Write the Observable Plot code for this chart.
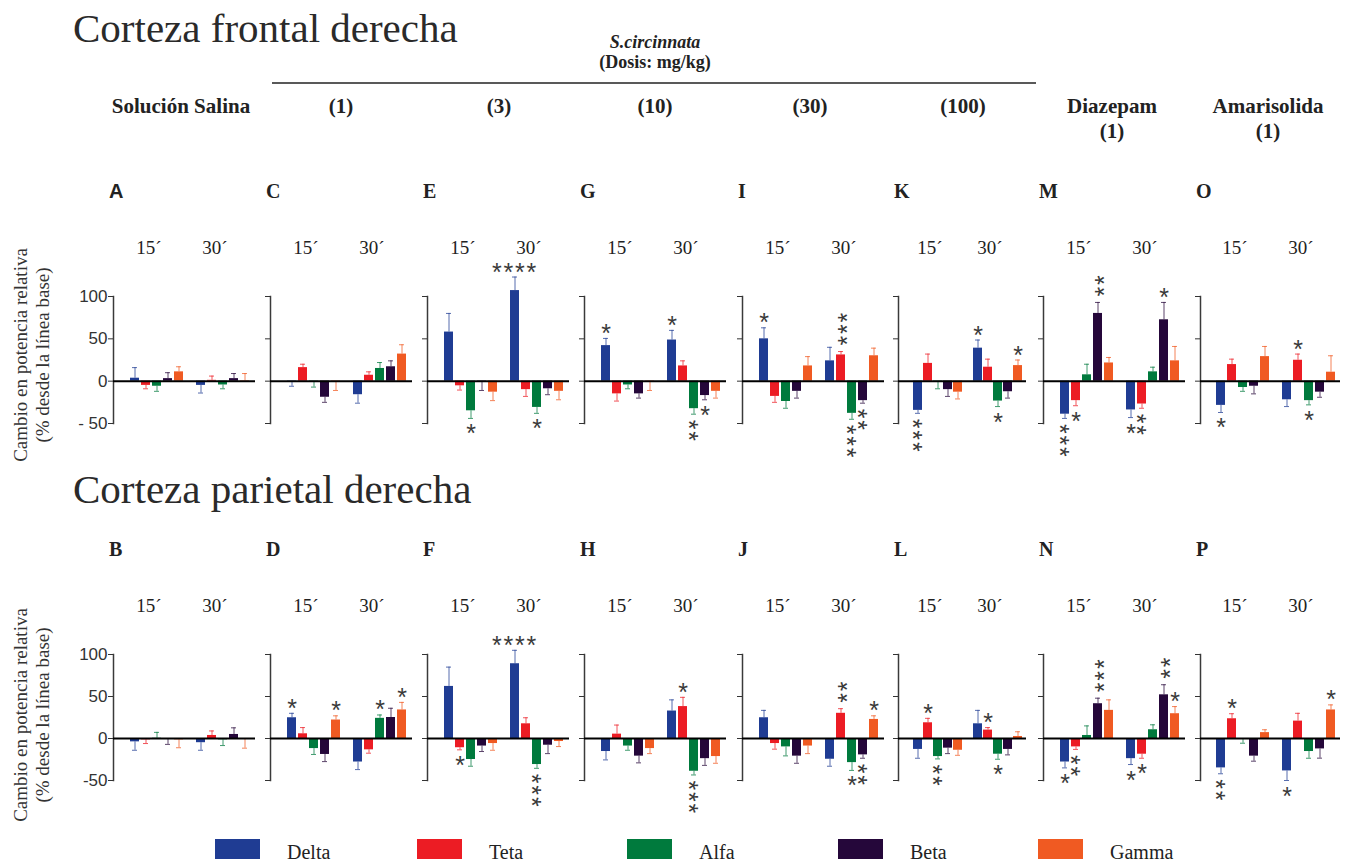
<!DOCTYPE html>
<html><head><meta charset="utf-8">
<script src="https://cdn.jsdelivr.net/npm/d3@7"></script>
<script src="https://cdn.jsdelivr.net/npm/@observablehq/plot@0.6"></script>
<style>
html,body{margin:0;padding:0;background:#fff;}
#root{position:relative;width:1348px;height:866px;overflow:hidden;background:#fff;}
</style></head><body><div id="root"></div>
<script>
// ---------- data ----------
const bands = ["Delta","Teta","Alfa","Beta","Gamma"];
const bandColors = ["#1f3c93","#ec1c24","#007a3d","#25073a","#f05a22"];
const times = ["15´","30´"];
const regionTitles = ["Corteza frontal derecha","Corteza parietal derecha"];
const groupLabels = ["Solución Salina","(1)","(3)","(10)","(30)","(100)","Diazepam\n(1)","Amarisolida\n(1)"];
const topPanels = ["A","C","E","G","I","K","M","O"];
const bottomPanels = ["B","D","F","H","J","L","N","P"];
const yTicks = [-50, 0, 50, 100];

// each array: 5 bands at 15´ then 5 bands at 30´ (Delta, Teta, Alfa, Beta, Gamma)
const valA = [3.5,-5,-6,3,11, -5,1,-4.5,3,0.5];
const semA = [12.5,4,6,7,6, 9,5,4.5,6,8.5];
const sigA = ["","","","","", "","","","",""];
const valC = [-1,16,-1,-19,-1, -16,7,15,17,32];
const semC = [5,4,6,6,10, 10,4,7,7,11];
const sigC = ["","","","","", "","","","",""];
const valE = [58,-5.5,-35,-1,-13, 107,-10,-31,-9,-12];
const semE = [22,5,9,10,10, 16,8,7,7,10];
const sigE = ["","","*","","", "****","","*","",""];
const valG = [42,-15,-4.5,-15,-1, 48.6,18,-32.5,-17,-12];
const semG = [8.5,8.5,4.5,5,10, 11.4,6,6.5,5,8];
const sigG = ["*","","","","", "*","","**","*",""];
const valI = [50,-18,-24,-12,18, 24,31,-38,-23,30];
const semI = [13,7,8,8,11, 16,4,7,3,9];
const sigI = ["*","","","","", "","***","***","**",""];
const valK = [-34.5,21,-1,-10,-13, 39,16.5,-23.5,-12.5,18.4];
const semK = [3.5,11,8,8,8, 9.6,9.5,6.5,7.5,6.6];
const sigK = ["***","","","","", "*","","*","","*"];
const valM = [-39,-23,7.5,80,21.5, -34,-27,11,72.5,24];
const semM = [5,6,12.5,13,6.5, 9,5,5.5,20.5,17];
const sigM = ["***","*","","**","", "*","**","","*",""];
const valO = [-28.6,19.6,-7.5,-6,29, -22,24.7,-23,-13,10.6];
const semO = [8.4,6.4,4.5,9,12, 8,7.3,5,6,19.4];
const sigO = ["*","","","","", "","*","*","",""];

const valB = [-4,-1.6,0.3,-0.5,-1.6, -5,3.6,-1.6,4.8,-0.5];
const semB = [10,4.4,7,6.5,9.4, 9,5.4,6.8,7.9,11];
const sigB = ["","","","","", "","","","",""];
const valD = [24.7,5.6,-12,-19,22, -28,-13.5,24,25,34];
const semD = [5.3,7.4,7,8.5,5, 9,4,4,11,9];
const sigD = ["*","","","","*", "","","*","","*"];
const valF = [62,-11,-25,-9,-6, 89,17.5,-31,-8,-3.6];
const semF = [23,2.5,8,6.5,8, 16,7.2,4.5,10,6];
const sigF = ["","*","","","", "****","","***","",""];
const valH = [-15.5,5.2,-9,-21,-12, 32.7,38,-39,-24,-21.5];
const semH = [10,10.8,5,8,6, 13.3,11,4.4,8,8];
const sigH = ["","","","","", "","*","***","",""];
const valJ = [24.7,-6,-10,-21,-9, -24.7,30,-28.7,-19.5,22.7];
const semJ = [8.8,6.7,10.7,8.5,9, 8.3,5.5,9.3,4,4.3];
const sigJ = ["","","","","", "","**","*","**","*"];
const valL = [-13,18.7,-21.5,-11.5,-14, 17.5,10,-18.7,-13,2.4];
const semL = [10.5,5.3,2.8,6.5,6, 16,3,6,6.5,5.6];
const sigL = ["","*","**","","", "","*","*","",""];
const valN = [-28,-10,3.6,41.4,33.5, -24,-18.7,10.4,52,29.5];
const semN = [7,3,11.4,6.6,12.5, 7,4.8,5.9,12,8.5];
const sigN = ["*","**","","***","", "*","*","","**","*"];
const valP = [-35,23.5,-1,-21,7, -38.6,20.7,-15.5,-12.4,34];
const semP = [7,6,4.6,6,3.4, 11.4,9.3,8,11,6];
const sigP = ["**","*","","","", "*","","","","*"];

// ---------- layout ----------
const panelRows = [
  [[valA,semA,sigA],[valC,semC,sigC],[valE,semE,sigE],[valG,semG,sigG],[valI,semI,sigI],[valK,semK,sigK],[valM,semM,sigM],[valO,semO,sigO]],
  [[valB,semB,sigB],[valD,semD,sigD],[valF,semF,sigF],[valH,semH,sigH],[valJ,semJ,sigJ],[valL,semL,sigL],[valN,semN,sigN],[valP,semP,sigP]]
];
const axisX = [113, 270, 427, 584, 742, 898, 1043, 1200];
const panelW = [142, 142, 142, 142, 142, 128, 142, 140];
const rowGeom = [
  {y100: 296, yM50: 423, timeBase: 253, letterBase: 198, titleBase: 42, yLabelC: 355},
  {y100: 654, yM50: 780, timeBase: 611, letterBase: 556, titleBase: 503, yLabelC: 715}
];
const groupCenters = [181, 341, 499, 655, 810, 963, 1112, 1268];

const root = document.getElementById("root");
const serif = "Liberation Serif, Times New Roman, serif";
const sans = "Liberation Sans, Arial, sans-serif";

const STAR_SIZE = 25;

function drawPanel(row, col) {
  const [val, sem, sig] = panelRows[row][col];
  const R = rowGeom[row];
  const rows = val.map((v, i) => {
    const t = i < 5 ? 0 : 1, b = bands[i % 5];
    const dir = v < 0 ? -1 : 1;
    return {key: `${times[t]} ${b}`, band: b, value: v, end: v + dir * sem[i], sig: sig[i], dir};
  });
  const keys = ["pad", ...bands.map(b => `${times[0]} ${b}`), "gap", ...bands.map(b => `${times[1]} ${b}`)];
  const starStyle = {fontFamily: sans, fontSize: STAR_SIZE, fill: "#3a3a3a"};
  const single = d => d.sig.length === 1 || d.sig.length >= 4;
  const stack = d => d.sig.length === 2 || d.sig.length === 3;
  const starMarks = [
    // single asterisk or horizontal row of asterisks
    Plot.text(rows.filter(d => single(d) && d.dir > 0), {x: "key", y: "end", text: "sig", lineAnchor: "bottom", dy: 3.5, ...starStyle}),
    Plot.text(rows.filter(d => single(d) && d.dir < 0), {x: "key", y: "end", text: "sig", lineAnchor: "bottom", dy: 24, ...starStyle}),
    // vertical stacks above positive bars
    Plot.text(rows.filter(d => stack(d) && d.dir > 0), {x: "key", y: "end", text: "sig",
      rotate: -90, textAnchor: "start", lineAnchor: "middle", dx: 6.5, dy: -6, ...starStyle}),
    // vertical stacks below negative bars
    Plot.text(rows.filter(d => stack(d) && d.dir < 0), {x: "key", y: "end", text: "sig",
      rotate: 90, textAnchor: "start", lineAnchor: "middle", dx: -6.5, dy: 5.5, ...starStyle})
  ];
  const w = panelW[col];
  const mL = 45, mT = 60, mB = 50;
  const mR = Math.min(14, 1348 - (axisX[col] + w) - 1);
  const ph = R.yM50 - R.y100;
  const svg = Plot.plot({
    width: mL + w + mR, height: mT + ph + mB,
    marginLeft: mL, marginRight: mR, marginTop: mT, marginBottom: mB,
    style: {fontFamily: sans, fontSize: "17px", color: "#333", background: "transparent", overflow: "visible"},
    x: {type: "band", domain: keys, paddingInner: 0.15, paddingOuter: 0, axis: null},
    y: {domain: [-50, 100], axis: null},
    color: {domain: bands, range: bandColors},
    marks: [
      Plot.frame({anchor: "left", stroke: "#3a3a3a", strokeWidth: 1.5}),
      Plot.axisY({ticks: yTicks, tickSize: 5, tickPadding: 1, label: null, color: "#333",
        tickFormat: col === 0 ? (d => d === -50 ? (row === 0 ? "- 50" : "-50") : String(d)) : () => ""}),
      Plot.ruleX(rows, {x: "key", y1: "value", y2: "end", stroke: "band", strokeWidth: 1, strokeOpacity: 0.75}),
      Plot.tickY(rows, {x: "key", y: "end", stroke: "band", strokeWidth: 1, strokeOpacity: 0.75, insetLeft: 2, insetRight: 2}),
      Plot.barY(rows, {x: "key", y: "value", fill: "band"}),
      Plot.ruleY([0], {stroke: "#000", strokeWidth: 2, insetRight: mR > 5 ? 0 : 0}),
      Plot.text(times, {x: times.map(t => `${t} Alfa`), text: d => d, frameAnchor: "top", lineAnchor: "bottom",
        dy: R.timeBase - R.y100, dx: -8, fontFamily: serif, fontSize: 19, fill: "#222"}),
      ...starMarks
    ]
  });
  // spread stacked asterisks slightly, as in the original figure
  d3.select(svg).selectAll("text").filter(function () { return /^\*{2,}$/.test(this.textContent); })
    .attr("letter-spacing", 1.8);
  svg.style.position = "absolute";
  svg.style.left = (axisX[col] - mL) + "px";
  svg.style.top = (R.y100 - mT) + "px";
  svg.style.maxWidth = "none";
  root.appendChild(svg);
}

for (let r = 0; r < 2; r++) for (let c = 0; c < 8; c++) drawPanel(r, c);

// ---------- titles, headers, labels, legend ----------
const ov = d3.select(root).append("svg")
  .attr("width", 1348).attr("height", 866)
  .style("position", "absolute").style("left", 0).style("top", 0)
  .style("pointer-events", "none").style("overflow", "visible");

function txt(x, y, s, o = {}) {
  return ov.append("text").attr("x", x).attr("y", y).text(s)
    .attr("font-family", o.family || serif).attr("font-size", o.size || 20)
    .attr("font-weight", o.weight || "normal").attr("font-style", o.style || "normal")
    .attr("text-anchor", o.anchor || "start").attr("fill", o.fill || "#222");
}

regionTitles.forEach((t, r) => txt(73, rowGeom[r].titleBase, t, {size: 41, fill: "#2a2a2a"}));

txt(655, 48, "S.circinnata", {size: 18, weight: "bold", style: "italic", anchor: "middle"});
txt(655, 68, "(Dosis: mg/kg)", {size: 18, weight: "bold", anchor: "middle"});
ov.append("line").attr("x1", 272).attr("x2", 1036).attr("y1", 83).attr("y2", 83)
  .attr("stroke", "#222").attr("stroke-width", 1.5);

groupLabels.forEach((g, i) => {
  g.split("\n").forEach((line, j) => txt(groupCenters[i], 113 + j * 25, line, {size: 21, weight: "bold", anchor: "middle"}));
});

[topPanels, bottomPanels].forEach((letters, r) => {
  letters.forEach((L, c) => txt(axisX[c] - 4, rowGeom[r].letterBase, L,
    {size: 20, weight: "bold", family: (L === "A" ? sans : serif)}));
  const cy = rowGeom[r].yLabelC;
  ov.append("text").attr("transform", `translate(27,${cy}) rotate(-90)`).attr("text-anchor", "middle")
    .attr("font-family", serif).attr("font-size", 19).attr("fill", "#333").text("Cambio en potencia relativa");
  ov.append("text").attr("transform", `translate(49,${cy}) rotate(-90)`).attr("text-anchor", "middle")
    .attr("font-family", serif).attr("font-size", 19).attr("fill", "#333").text("(% desde la línea base)");
});

const legendX = [215, 417, 627, 838, 1038];
bands.forEach((b, i) => {
  ov.append("rect").attr("x", legendX[i]).attr("y", 839).attr("width", 45).attr("height", 20).attr("fill", bandColors[i]);
  txt(legendX[i] + 72, 859, b, {size: 20, fill: "#222"});
});
</script></body></html>
